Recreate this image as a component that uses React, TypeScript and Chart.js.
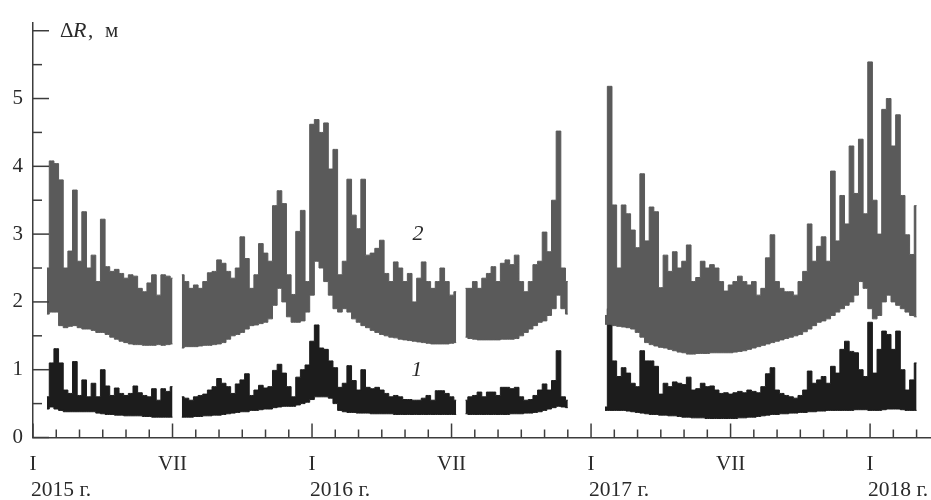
import { useEffect, useRef } from 'react';
import { Chart, registerables } from 'chart.js';
Chart.register(...registerables);

// sample grid: months since Jan 2015, first sample and step
const START = 0.6;
const STEP = 0.2;

// month tick positions (months since Jan 2015) and their labels
const monthTicks = Array.from({ length: 39 }, (_, i) => i);
const monthLabelAt: Record<number, string> = { 0: 'I', 6: 'VII', 12: 'I', 18: 'VII', 24: 'I', 30: 'VII', 36: 'I' };
const yearMonths = [0, 12, 24, 36];
const yearTexts = ['2015 г.', '2016 г.', '2017 г.', '2018 г.'];
const yTicks = [0, 0.5, 1, 1.5, 2, 2.5, 3, 3.5, 4, 4.5, 5, 5.5, 6];

// Series 2 (grey): upper and lower envelope
const s2Hi: (number | null)[] = [
  2.5, 4.08, 4.04, 3.8, 2.5, 2.75, 3.65, 2.6, 3.33, 2.5, 2.69, 2.3, 3.22, 2.52, 2.45, 2.48, 2.42, 2.35, 2.4, 2.38, 2.2, 2.15, 2.28, 2.4, 2.1, 2.4, 2.38, 2.35,
  null,
  2.4, 2.3, 2.2, 2.25, 2.2, 2.3, 2.43, 2.45, 2.62, 2.57, 2.45, 2.35, 2.5, 2.96, 2.64, 2.2, 2.4, 2.86, 2.72, 2.6, 3.42, 3.64, 3.45, 2.4, 2.11, 3.04, 3.35, 2.3, 4.62, 4.69, 4.5, 4.64, 3.96, 4.25, 2.4, 2.6, 3.81, 3.28, 3.08, 3.81, 2.69, 2.72, 2.79, 2.91, 2.42, 2.3, 2.59, 2.5, 2.3, 2.42, 2.0, 2.35, 2.59, 2.3, 2.2, 2.3, 2.5, 2.3, 2.1, 2.15,
  null,
  2.2, 2.2, 2.3, 2.2, 2.35, 2.42, 2.52, 2.3, 2.57, 2.62, 2.55, 2.69, 2.3, 2.15, 2.3, 2.55, 2.6, 3.03, 2.74, 3.5, 4.52, 2.5, 2.3,
  null, null, null, null, null, null, null,
  1.8, 5.18, 3.43, 2.5, 3.43, 3.3, 3.06, 2.8, 3.89, 2.9, 3.4, 3.33, 2.21, 2.69, 2.45, 2.74, 2.5, 2.6, 2.84, 2.3, 2.36, 2.6, 2.5, 2.55, 2.5, 2.3, 2.16, 2.25, 2.3, 2.38, 2.3, 2.25, 2.3, 2.1, 2.2, 2.65, 2.99, 2.3, 2.2, 2.15, 2.15, 2.1, 2.3, 2.45, 3.15, 2.6, 2.82, 2.96, 2.6, 3.93, 2.9, 3.57, 3.15, 4.3, 3.6, 4.4, 3.3, 5.54, 3.5, 3.0, 4.84, 5.0, 4.3, 4.76, 3.57, 2.99, 2.7, 3.42,
];
const s2Lo: (number | null)[] = [
  1.82, 1.85, 1.85, 1.65, 1.62, 1.64, 1.65, 1.62, 1.6, 1.6, 1.58, 1.55, 1.55, 1.52, 1.48, 1.45, 1.42, 1.4, 1.38, 1.37, 1.37, 1.36, 1.36, 1.36, 1.37, 1.36, 1.37, 1.38,
  null,
  1.32, 1.34, 1.34, 1.34, 1.35, 1.36, 1.36, 1.37, 1.38, 1.4, 1.45, 1.5, 1.52, 1.55, 1.6, 1.65, 1.66, 1.68, 1.7, 1.75, 1.95, 2.2, 2.0, 1.78, 1.7, 1.7, 1.72, 1.85, 2.1, 2.6, 2.5, 2.3, 2.1, 1.9, 1.85, 1.9, 1.85, 1.75, 1.7, 1.65, 1.62, 1.58, 1.55, 1.52, 1.5, 1.48, 1.47, 1.45, 1.44, 1.43, 1.42, 1.41, 1.4, 1.39, 1.38, 1.38, 1.38, 1.38, 1.39, 1.4,
  null,
  1.48, 1.46, 1.45, 1.44, 1.44, 1.44, 1.44, 1.44, 1.45, 1.45, 1.45, 1.46, 1.5, 1.55, 1.6, 1.65, 1.7, 1.72, 1.8, 1.9, 2.1, 1.9, 1.82,
  null, null, null, null, null, null, null,
  1.67, 1.67, 1.65, 1.64, 1.63, 1.62, 1.6, 1.55, 1.48, 1.4, 1.37, 1.35, 1.33, 1.32, 1.3, 1.28, 1.26, 1.25, 1.23, 1.23, 1.24, 1.24, 1.24, 1.25, 1.25, 1.25, 1.25, 1.25, 1.26, 1.27, 1.28, 1.3, 1.32, 1.34, 1.36, 1.38, 1.4, 1.42, 1.44, 1.46, 1.48, 1.5, 1.52, 1.56, 1.6, 1.65, 1.7, 1.72, 1.75, 1.8, 1.85, 1.9, 1.95, 2.0, 2.1, 2.3, 2.2, 1.9, 1.75, 1.8, 2.0, 2.1, 2.0, 1.95, 1.9, 1.85, 1.8, 1.78,
];

// Series 1 (black): upper and lower envelope
const s1Hi: (number | null)[] = [
  0.6, 1.1, 1.31, 1.1, 0.7, 0.65, 1.12, 0.62, 0.85, 0.6, 0.8, 0.6, 1.0, 0.76, 0.62, 0.73, 0.65, 0.62, 0.65, 0.76, 0.66, 0.62, 0.6, 0.72, 0.55, 0.72, 0.68, 0.75,
  null,
  0.6, 0.58, 0.55, 0.6, 0.62, 0.64, 0.7, 0.75, 0.87, 0.8, 0.75, 0.65, 0.79, 0.85, 0.94, 0.62, 0.7, 0.77, 0.73, 0.75, 0.99, 1.08, 0.95, 0.75, 0.6, 0.89, 1.0, 1.07, 1.42, 1.66, 1.32, 1.3, 1.13, 1.03, 0.74, 0.8, 1.06, 0.84, 0.7, 1.0, 0.74, 0.72, 0.74, 0.7, 0.65, 0.6, 0.62, 0.6, 0.56, 0.56, 0.55, 0.55, 0.58, 0.62, 0.55, 0.69, 0.69, 0.65, 0.6, 0.55,
  null,
  0.55, 0.6, 0.62, 0.67, 0.6, 0.67, 0.67, 0.62, 0.74, 0.74, 0.72, 0.74, 0.6, 0.55, 0.56, 0.62, 0.7, 0.79, 0.7, 0.84, 1.28, 0.6, 0.55,
  null, null, null, null, null, null, null,
  0.45, 1.9, 1.13, 0.9, 1.03, 0.95, 0.8, 0.75, 1.28, 1.13, 1.13, 1.05, 0.64, 0.8, 0.75, 0.82, 0.8, 0.78, 0.89, 0.7, 0.72, 0.8, 0.75, 0.76, 0.7, 0.65, 0.66, 0.64, 0.66, 0.68, 0.66, 0.7, 0.68, 0.66, 0.75, 0.94, 1.03, 0.7, 0.65, 0.62, 0.6, 0.58, 0.62, 0.7, 0.98, 0.8, 0.85, 0.9, 0.8, 1.05, 0.95, 1.3, 1.42, 1.27, 1.25, 1.0, 0.9, 1.7, 0.95, 1.3, 1.57, 1.52, 1.3, 1.57, 1.0, 0.7, 0.85, 1.1,
];
const s1Lo: (number | null)[] = [
  0.42, 0.45, 0.42, 0.4, 0.38, 0.38, 0.38, 0.38, 0.38, 0.38, 0.38, 0.36, 0.35, 0.34, 0.34, 0.33, 0.33, 0.32, 0.32, 0.32, 0.32, 0.31, 0.31, 0.3, 0.3, 0.3, 0.3, 0.3,
  null,
  0.3, 0.3, 0.3, 0.31, 0.31, 0.32, 0.32, 0.33, 0.33, 0.34, 0.35, 0.36, 0.37, 0.38, 0.38, 0.4, 0.4, 0.41, 0.42, 0.42, 0.44, 0.45, 0.46, 0.46, 0.46, 0.48, 0.5, 0.52, 0.56, 0.6, 0.6, 0.6, 0.58, 0.5, 0.4, 0.38, 0.37, 0.37, 0.36, 0.36, 0.36, 0.35, 0.35, 0.35, 0.35, 0.35, 0.34, 0.34, 0.34, 0.34, 0.34, 0.34, 0.34, 0.34, 0.34, 0.34, 0.34, 0.34, 0.34, 0.34,
  null,
  0.35, 0.34, 0.34, 0.34, 0.34, 0.34, 0.34, 0.34, 0.34, 0.34, 0.35, 0.35, 0.35, 0.36, 0.36, 0.37, 0.38, 0.4, 0.42, 0.44, 0.46, 0.45, 0.44,
  null, null, null, null, null, null, null,
  0.4, 0.4, 0.4, 0.4, 0.4, 0.39, 0.38, 0.37, 0.36, 0.35, 0.34, 0.34, 0.33, 0.33, 0.32, 0.32, 0.31, 0.3, 0.3, 0.29, 0.29, 0.29, 0.28, 0.28, 0.28, 0.28, 0.28, 0.28, 0.28, 0.29, 0.29, 0.3, 0.3, 0.31, 0.32, 0.33, 0.34, 0.34, 0.35, 0.35, 0.36, 0.36, 0.37, 0.37, 0.38, 0.38, 0.39, 0.39, 0.4, 0.4, 0.4, 0.4, 0.4, 0.4, 0.41, 0.41, 0.41, 0.4, 0.4, 0.4, 0.41, 0.42, 0.42, 0.42, 0.41, 0.4, 0.4, 0.4,
];

const sampleTimes = s2Hi.map((_, i) => START + STEP * i);

// series label positions (month, value)
const seriesLabels = [
  { text: '2', m: 16.56, v: 3.0 },
  { text: '1', m: 16.5, v: 0.99 },
];

const GRAY = '#5a5a5a';
const BLACK = '#1c1c1c';
const AXIS = '#3c3c3c';
const TEXT = '#2a2a2a';
const SERIF = '"Liberation Serif", "DejaVu Serif", serif';
const FONT_SIZE = 21;

export default function App() {
  const ref = useRef<HTMLCanvasElement>(null);
  useEffect(() => {
    const mk = (arr: (number | null)[], color: string, fill: any) => ({
      data: sampleTimes.map((t, i) => ({ x: t, y: arr[i] })),
      borderColor: color,
      backgroundColor: color,
      borderWidth: 1,
      pointRadius: 0,
      stepped: 'middle' as const,
      spanGaps: false,
      fill,
    });

    const decor = {
      id: 'decor',
      afterDraw(chart: any) {
        const { ctx, scales, chartArea } = chart;
        const xs = scales.x;
        const ys = scales.y;
        ctx.save();
        ctx.strokeStyle = AXIS;
        ctx.lineWidth = 1.5;
        // y tick marks (inward)
        for (const v of yTicks) {
          const y = ys.getPixelForValue(v);
          const len = Number.isInteger(v) ? 16 : 9;
          ctx.beginPath();
          ctx.moveTo(chartArea.left, y);
          ctx.lineTo(chartArea.left + len, y);
          ctx.stroke();
        }
        // x tick marks (inward)
        for (const m of monthTicks) {
          const x = xs.getPixelForValue(m);
          const len = m % 6 === 0 ? 14 : 8;
          ctx.beginPath();
          ctx.moveTo(x, chartArea.bottom);
          ctx.lineTo(x, chartArea.bottom - len);
          ctx.stroke();
        }
        ctx.fillStyle = TEXT;
        // year labels
        ctx.font = `${FONT_SIZE + 0.5}px ${SERIF}`;
        ctx.textAlign = 'left';
        ctx.textBaseline = 'alphabetic';
        yearMonths.forEach((m, i) => {
          ctx.fillText(yearTexts[i], xs.getPixelForValue(m) - 2, 496);
        });
        // axis title: ΔR, м
        const y6 = ys.getPixelForValue(6);
        const l = chartArea.left;
        const base = y6 + 6;
        ctx.font = `${FONT_SIZE}px ${SERIF}`;
        ctx.fillText('Δ', l + 27, base);
        ctx.font = `italic ${FONT_SIZE + 1}px ${SERIF}`;
        ctx.fillText('R', l + 40, base);
        ctx.font = `${FONT_SIZE}px ${SERIF}`;
        ctx.fillText(',', l + 55, base);
        ctx.fillText('м', l + 72, base);
        // series labels
        ctx.font = `italic ${FONT_SIZE + 1}px ${SERIF}`;
        ctx.textAlign = 'center';
        ctx.textBaseline = 'middle';
        for (const s of seriesLabels) {
          ctx.fillText(s.text, xs.getPixelForValue(s.m), ys.getPixelForValue(s.v));
        }
        ctx.restore();
      },
    };

    const chart = new Chart(ref.current!, {
      type: 'line',
      data: {
        datasets: [
          mk(s2Lo, GRAY, false),
          mk(s2Hi, GRAY, '-1'),
          mk(s1Lo, BLACK, false),
          mk(s1Hi, BLACK, '-1'),
        ] as any,
      },
      options: {
        responsive: false,
        animation: false,
        layout: { padding: { top: 19, right: 0, left: 0, bottom: 0 } },
        plugins: { legend: { display: false }, tooltip: { enabled: false } },
        scales: {
          x: {
            type: 'linear',
            min: 0,
            max: 38.62,
            afterBuildTicks: (s: any) => {
              s.ticks = monthTicks.map((v) => ({ value: v }));
            },
            afterFit: (s: any) => {
              s.height = 62.5;
            },
            ticks: {
              autoSkip: false,
              maxRotation: 0,
              padding: 14,
              color: TEXT,
              font: { family: SERIF, size: FONT_SIZE },
              callback: (v: any) => monthLabelAt[v] ?? '',
            },
            grid: { display: false, drawTicks: false },
            border: { display: true, color: AXIS, width: 1.5 },
          },
          y: {
            min: 0,
            max: 6.12,
            afterFit: (s: any) => {
              s.width = 33;
            },
            ticks: {
              stepSize: 0.5,
              includeBounds: false,
              padding: 10,
              color: TEXT,
              font: { family: SERIF, size: FONT_SIZE },
              callback: (v: any) => (Number.isInteger(v) && v <= 5 ? String(v) : ''),
            },
            grid: { display: false, drawTicks: false },
            border: { display: true, color: AXIS, width: 1.5 },
          },
        },
      },
      plugins: [decor],
    });
    return () => chart.destroy();
  }, []);
  return (
    <div style={{ position: 'fixed', left: 0, top: 0, width: 931, height: 500, background: '#fff' }}>
      <canvas ref={ref} width={931} height={500} style={{ display: 'block', width: 931, height: 500 }} />
    </div>
  );
}
